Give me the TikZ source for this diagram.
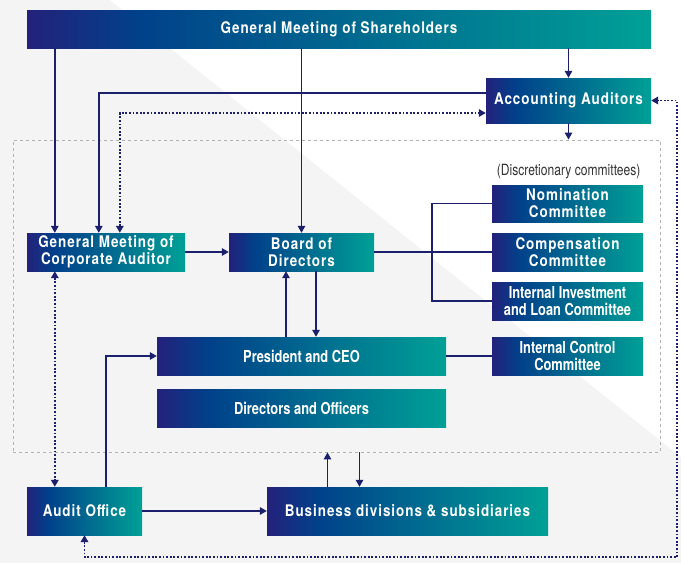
\documentclass[tikz,border=0pt]{standalone}
\usepackage{fontspec}
\setmainfont{TeX Gyre Heros}
\newfontfamily\unitfont{TeX Gyre Heros}[FakeStretch=0.84, LetterSpace=6]
\newfontfamily\tightfont{TeX Gyre Heros}[FakeStretch=0.78]
\usepackage{tikz}
\usetikzlibrary{arrows.meta}

\definecolor{uNavy}{HTML}{23217B}
\definecolor{uBlue}{HTML}{01418A}
\definecolor{uTeal}{HTML}{00A096}
\definecolor{lineNavy}{HTML}{1C1F6C}
\definecolor{bgGray}{HTML}{F4F4F5}
\pgfdeclarehorizontalshading{unitshade}{100bp}{color(0bp)=(uNavy); color(25bp)=(uNavy); color(34bp)=(uBlue); color(75bp)=(uTeal); color(100bp)=(uTeal)}

\begin{document}
\begin{tikzpicture}[x=1pt, y=-1pt, >={Triangle[length=7pt,width=7.5pt]},
	unit/.style={shade, shading=unitshade, text=white, align=center, inner sep=0pt, minimum height=38pt, font=\unitfont\bfseries\fontsize{16}{17}\selectfont},
	unitT/.style={unit, font=\tightfont\bfseries\fontsize{16.5}{16.5}\selectfont},
	link/.style={draw=lineNavy, line width=1.4pt},
	dots/.style={link, line width=1.8pt, dash pattern=on 1.8pt off 1.8pt},
	frame/.style={draw=black!30, line width=0.9pt, dash pattern=on 3pt off 3pt, inner sep=0pt},
	note/.style={text=black!80, font=\tightfont\fontsize{15.5}{16}\selectfont}]
	% page and the light diagonal band
	\fill[bgGray] (0,0) rectangle (681,563);
	\fill[white] (110,0) -- (681,0) -- (681,457) -- cycle;
	\useasboundingbox (0,0) rectangle (681,563);

	% frame round the executive bodies
	\node[frame, minimum width=647pt, minimum height=312pt] (exec) at (336.5,296) {};

	\node[unit, minimum width=624pt] (gms) at (339,29) {General Meeting of Shareholders};
	\node[unit, minimum width=165pt, minimum height=45pt] (acct) at (568.5,100.5) {Accounting Auditors};
	\node[note, anchor=east] (disc) at (644,172) {(Discretionary committees)};
	\node[unit, minimum width=151pt, minimum height=37pt] (nomi) at (567.5,203.5) {Nomination\\Committee};
	\node[unit, minimum width=151pt] (comp) at (567.5,252) {Compensation\\Committee};
	\node[unitT, minimum width=151pt] (invest) at (567.5,301) {Internal Investment\\and Loan Committee};
	\node[unitT, minimum width=151pt] (ictrl) at (567.5,356) {Internal Control\\Committee};
	\node[unit, minimum width=158pt] (gmca) at (106,252) {General Meeting of\\Corporate Auditor};
	\node[unit, minimum width=145pt] (board) at (301.5,252) {Board of\\Directors};
	\node[unitT, minimum width=289pt] (ceo) at (301.5,356) {President and CEO};
	\node[unitT, minimum width=289pt] (dno) at (301.5,408) {Directors and Officers};
	\node[unit, minimum width=115pt, minimum height=48pt] (audit) at (84.5,511) {Audit Office};
	\node[unit, minimum width=281pt, minimum height=48pt] (biz) at (407.5,511) {Business divisions \& subsidiaries};

	% feet of the lines that leave or reach a box off its centre
	\coordinate (gmcaA) at ([xshift=28pt]gmca.north west);
	\coordinate (gmcaB) at ([xshift=72pt]gmca.north west);
	\coordinate (gmcaC) at ([xshift=93pt]gmca.north west);
	\coordinate (bizL) at ([xshift=-80pt]biz.north);
	\coordinate (bizR) at ([xshift=-48pt]biz.north);

	\draw[link, ->] (gms.south -| gmcaA) -- (gmcaA);
	\draw[link, ->] (gms.south -| board.north) -- (board.north);
	\draw[link, ->] (gms.south -| acct.north) -- (acct.north);
	\draw[link, ->] (acct.south) -- (acct.south |- exec.north);
	\draw[link, ->] ([yshift=7.5pt]acct.west) -| (gmcaB);
	\draw[dots, <->] (gmcaC) |- ([yshift=-12.5pt]acct.west);
	\draw[link, ->] (gmca.east) -- (board.west);
	\draw[link] (board.east) -- (comp.west);
	\draw[link] (nomi.west) -- ++(-60,0) |- (invest.west);
	\draw[link, ->] ([xshift=-15.5pt]ceo.north) -- ([xshift=-15.5pt]board.south);
	\draw[link, ->] ([xshift=14.5pt]board.south) -- ([xshift=14.5pt]ceo.north);
	\draw[link] (ceo.east) -- (ictrl.west);
	\draw[dots, <->] (gmca.south -| gmcaA) -- (audit.north -| gmcaA);
	\draw[link, ->] ([xshift=21.5pt]audit.north) |- (ceo.west);
	\draw[link, ->] (audit.east) -- (biz.west);
	\draw[link, ->] (bizL) -- (bizL |- exec.south);
	\draw[link, <-] (bizR) -- (bizR |- exec.south);
	\draw[dots, <->] (audit.south) -- ++(0,22) -| ([xshift=26pt]acct.east) -- (acct.east);
\end{tikzpicture}
\end{document}
